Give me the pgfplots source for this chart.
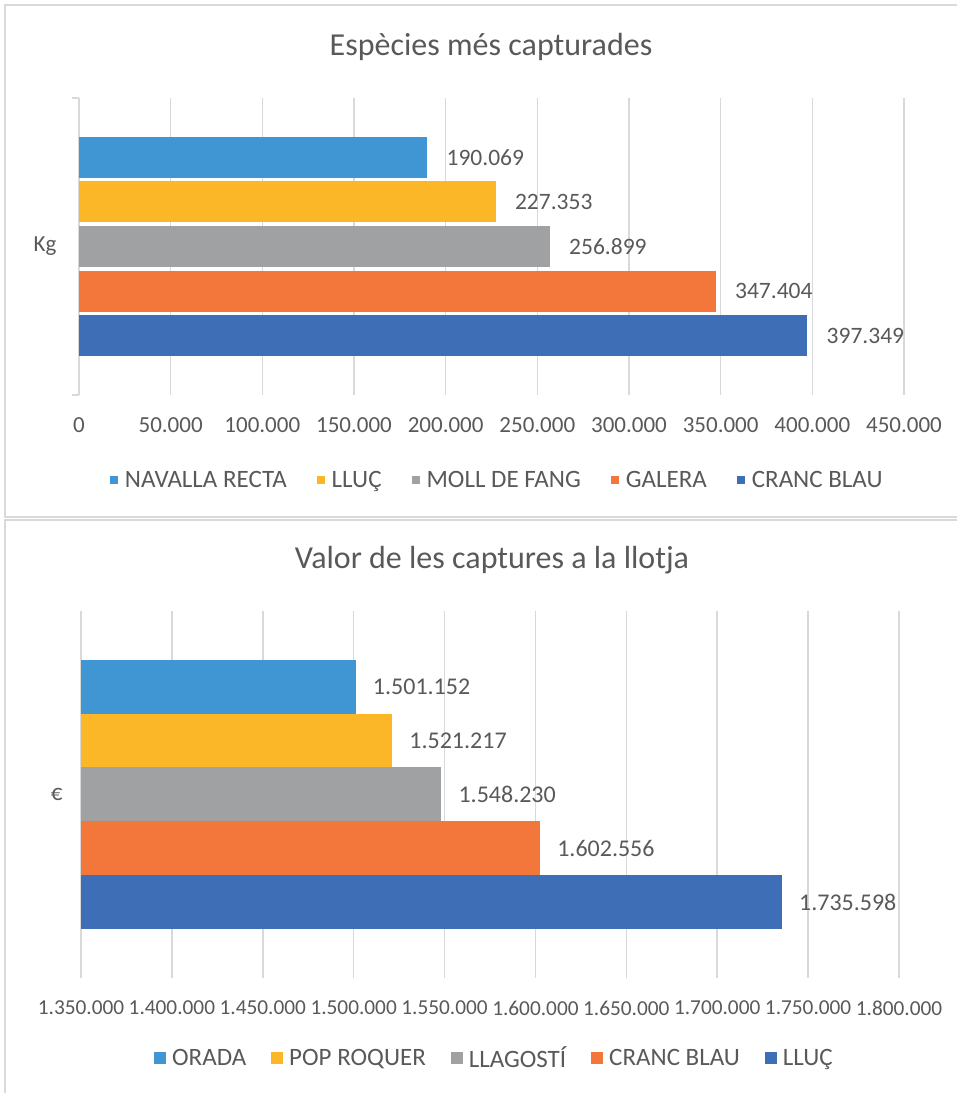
\documentclass[border=0pt]{standalone}
\usepackage{fontspec}
\setmainfont{Carlito}
\usepackage{pgfplots}
\pgfplotsset{compat=1.18}
\definecolor{cA}{HTML}{3F96D2}
\definecolor{cB}{HTML}{FBB728}
\definecolor{cC}{HTML}{9FA1A2}
\definecolor{cD}{HTML}{F3773B}
\definecolor{cE}{HTML}{3D6EB6}
\definecolor{gridc}{HTML}{D9D9D9}
\definecolor{txt}{HTML}{595959}
\newcommand{\tf}{\fontsize{23}{27}\selectfont}
\newcommand{\btf}{\fontsize{21.3}{26}\selectfont}
\newcommand{\lf}{\fontsize{25}{30}\selectfont}
\newcommand{\df}{\fontsize{23.5}{28}\selectfont}
\newcommand{\bdf}{\fontsize{24}{28}\selectfont}
\newcommand{\titf}{\fontsize{32}{38}\selectfont}
\begin{document}
\begin{tikzpicture}[x=1pt,y=1pt]
\path[use as bounding box] (0,0) rectangle (957,1093);
\draw[gridc, line width=2.5pt] (5,1088) rectangle (965,576);
\draw[gridc, line width=2.5pt] (5,-10) -- (5,573) -- (965,573);
\node[text=txt, font=\titf] at (491,1046) {Espècies més capturades};
\node[text=txt, font=\titf] at (492,533) {Valor de les captures a la llotja};

\begin{axis}[
  at={(79pt,698pt)}, anchor=south west, scale only axis,
  width=825pt, height=297pt,
  xmin=0, xmax=450000, ymin=-1.333, ymax=5.333,
  scaled x ticks=false,
  xbar, bar shift=0pt, bar width=41pt,
  xtick={0,50000,100000,150000,200000,250000,300000,350000,400000,450000},
  xticklabels={0,50.000,100.000,150.000,200.000,250.000,300.000,350.000,400.000,450.000},
  xmajorgrids, grid style={gridc, line width=1.5pt},
  x axis line style={draw=none},
  axis y line*=left, axis x line*=bottom,
  y axis line style={draw=gridc, line width=1.5pt},
  x tick style={draw=none},
  ytick={-1.333,5.333}, yticklabels={,},
  y tick style={draw=gridc, line width=1.5pt},
  tick align=outside, major tick length=7pt,
  extra y ticks={2}, extra y tick labels={Kg},
  extra y tick style={major tick length=0pt, yticklabel style={anchor=center, xshift=-34pt}},
  x tick label style={anchor=center, yshift=-23pt, font=\tf, text=txt},
  y tick label style={font=\tf, text=txt},
  point meta=explicit symbolic,
  nodes near coords,
  nodes near coords style={anchor=west, inner sep=0pt, xshift=19pt, font=\df, text=txt},
  legend style={at={(0.507,-0.286)}, anchor=center, draw=none, fill=none, font=\lf, text=txt,
    legend columns=5, /tikz/every odd column/.append style={column sep=5pt},
    /tikz/every even column/.append style={column sep=28pt}},
  legend image code/.code={\fill[#1] (0pt,-4pt) rectangle (8pt,4pt);},
]
\addplot[fill=cA, draw=none] coordinates {(190069,4) [190.069]};
\addplot[fill=cB, draw=none] coordinates {(227353,3) [227.353]};
\addplot[fill=cC, draw=none] coordinates {(256899,2) [256.899]};
\addplot[fill=cD, draw=none] coordinates {(347404,1) [347.404]};
\addplot[fill=cE, draw=none] coordinates {(397349,0) [397.349]};
\legend{NAVALLA RECTA, LLUÇ, MOLL DE FANG, GALERA, CRANC BLAU}
\end{axis}

\begin{axis}[
  at={(81pt,115pt)}, anchor=south west, scale only axis,
  width=818pt, height=367pt,
  xmin=1350000, xmax=1800000, ymin=-1.414, ymax=5.414,
  scaled x ticks=false,
  xbar, bar shift=0pt, bar width=54pt,
  xtick={1350000,1400000,1450000,1500000,1550000,1600000,1650000,1700000,1750000,1800000},
  xticklabels={1.350.000,1.400.000,1.450.000,1.500.000,1.550.000,1.600.000,1.650.000,1.700.000,1.750.000,1.800.000},
  xmajorgrids, grid style={gridc, line width=1.5pt},
  axis line style={draw=none},
  tick style={draw=none},
  ytick={2}, yticklabels={€},
  y tick label style={anchor=center, xshift=-20pt, font=\tf, text=txt},
  x tick label style={anchor=center, yshift=-30pt, font=\btf, text=txt},
  point meta=explicit symbolic,
  nodes near coords,
  nodes near coords style={anchor=west, inner sep=0pt, xshift=17pt, font=\bdf, text=txt},
  legend style={at={(0.5055,-0.218)}, anchor=center, draw=none, fill=none, font=\lf, text=txt,
    legend columns=5, /tikz/every odd column/.append style={column sep=4pt},
    /tikz/every even column/.append style={column sep=23pt}},
  legend image code/.code={\fill[#1] (0pt,-6pt) rectangle (12pt,6pt);},
]
\addplot[fill=cA, draw=none] coordinates {(1501152,4) [1.501.152]};
\addplot[fill=cB, draw=none] coordinates {(1521217,3) [1.521.217]};
\addplot[fill=cC, draw=none] coordinates {(1548230,2) [1.548.230]};
\addplot[fill=cD, draw=none] coordinates {(1602556,1) [1.602.556]};
\addplot[fill=cE, draw=none] coordinates {(1735598,0) [1.735.598]};
\legend{ORADA, POP ROQUER, LLAGOSTÍ, CRANC BLAU, LLUÇ}
\end{axis}
\end{tikzpicture}
\end{document}
